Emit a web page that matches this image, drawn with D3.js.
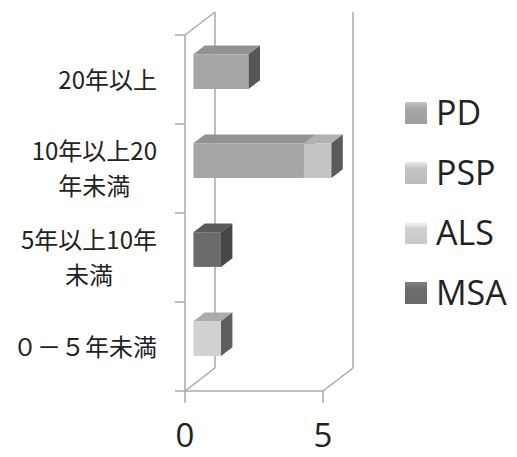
<!DOCTYPE html>
<html>
<head>
<meta charset="utf-8">
<script src="https://cdn.jsdelivr.net/npm/d3@7"></script>
<style>
  html, body { margin: 0; padding: 0; background: #fff; }
  svg { display: block; }
</style>
</head>
<body>
<svg id="chart" width="517" height="457"></svg>
<script>
// Disease counts by years since onset (stacked 3D horizontal bars)
const categories = ["20年以上", "10年以上20年未満", "5年以上10年未満", "０－５年未満"];
const categoryLines = [["20年以上"], ["10年以上20", "年未満"], ["5年以上10年", "未満"], ["０－５年未満"]];
const seriesNames = ["PD", "PSP", "ALS", "MSA"];
const pdValues  = [2, 4, 0, 0];
const pspValues = [0, 1, 0, 0];
const alsValues = [0, 0, 0, 1];
const msaValues = [0, 0, 1, 0];
const xTicks = [0, 5];

const frontColors = ["#a6a6a6", "#c4c4c4", "#d1d1d1", "#6b6b6b"];
const topColors   = ["#929292", "#b2b2b2", "#ababab", "#5a5a5a"];
const sideColors  = ["#565656", "#5a5a5a", "#5e5e5e", "#464646"];
const keyColors   = ["#a6a6a6", "#c3c3c3", "#d0d0d0", "#6d6d6d"];

const rows = categories.map((c, i) => ({
  category: c, PD: pdValues[i], PSP: pspValues[i], ALS: alsValues[i], MSA: msaValues[i]
}));
const stacked = d3.stack().keys(seriesNames)(rows);

const svg = d3.select("#chart");
const textColor = "#222";
const lineColor = "#a8a8a8";

const x = d3.scaleLinear().domain([0, 5]).range([185, 323]);
const y = d3.scaleBand().domain(categories).range([35, 391]).paddingInner(0).paddingOuter(0);
const plotTop = 35, plotBottom = 391;

// oblique depth direction of the 3D box
const DX = 30, DY = -23;
const proj = (v, yy, f) => [x(v) + f * DX, yy + f * DY];
const line = d3.line();

const frame = svg.append("g").attr("fill", "none").attr("stroke", lineColor).attr("stroke-width", 1.5);

// left wall edges
frame.append("path").attr("d", line([proj(0, plotTop, 0), proj(0, plotBottom, 0)]));
frame.append("path").attr("d", line([proj(0, plotTop, 0), proj(0, plotTop, 1)]));
// floor front edge
frame.append("path").attr("d", line([proj(0, plotBottom, 0), proj(5, plotBottom, 0)]));
// value gridlines: floor diagonal + back wall vertical
xTicks.forEach(v => {
  frame.append("path").attr("d", line([proj(v, plotBottom, 0), proj(v, plotBottom, 1)]));
  frame.append("path").attr("d", line([proj(v, plotBottom, 1), proj(v, plotTop, 1)]));
});

// category tick marks
const boundaries = categories.map(c => y(c)).concat([plotBottom]);
boundaries.forEach(b => {
  frame.append("path").attr("d", line([[x(0) - 10, b], [x(0), b]]));
});
// value tick marks
xTicks.forEach(v => {
  frame.append("path").attr("d", line([[x(v), plotBottom], [x(v), plotBottom + 12]]));
});

// bars
const f0 = 0.28, f1 = 0.66;
const barH = y.bandwidth() * 0.39;
const bars = svg.append("g");
categories.forEach((c, ci) => {
  const cy = y(c) + y.bandwidth() / 2 - 1.5;
  const yT = cy - barH / 2, yB = cy + barH / 2;
  stacked.forEach((s, si) => {
    const [v0, v1] = s[ci];
    if (v1 - v0 <= 0) return;
    const g = bars.append("g");
    // top face
    g.append("path")
      .attr("d", line([proj(v0, yT, f0), proj(v1, yT, f0), proj(v1, yT, f1), proj(v0, yT, f1)]) + "Z")
      .attr("fill", topColors[si]);
    // front face
    g.append("path")
      .attr("d", line([proj(v0, yT, f0), proj(v1, yT, f0), proj(v1, yB, f0), proj(v0, yB, f0)]) + "Z")
      .attr("fill", frontColors[si]);
    // right side face
    g.append("path")
      .attr("d", line([proj(v1, yT, f0), proj(v1, yT, f1), proj(v1, yB, f1), proj(v1, yB, f0)]) + "Z")
      .attr("fill", sideColors[si]);
  });
});

// value tick labels
svg.append("g").selectAll("text").data(xTicks).join("text")
  .attr("x", d => x(d)).attr("y", 447)
  .attr("text-anchor", "middle")
  .attr("font-family", "'Open Sans', 'Noto Sans CJK JP', sans-serif")
  .attr("font-size", 33).attr("fill", textColor)
  .text(d => d);

// category labels (multi-line, centred block, right-aligned to the axis)
const labelRight = 157, lineGap = 35;
const catG = svg.append("g")
  .attr("font-family", "'Noto Sans CJK JP', sans-serif")
  .attr("font-size", 24).attr("fill", textColor);
categories.forEach((c, i) => {
  const lines = categoryLines[i];
  const cy = y(c) + y.bandwidth() / 2 + 1;
  const t = catG.append("text").attr("text-anchor", "middle");
  const spans = lines.map((l, k) => t.append("tspan")
    .attr("y", cy + (k - (lines.length - 1) / 2) * lineGap)
    .attr("dy", "0.35em")
    .text(l));
  const maxW = d3.max(spans, sp => sp.node().getComputedTextLength());
  spans.forEach(sp => sp.attr("x", labelRight - maxW / 2));
});

// legend
const defs = svg.append("defs");
keyColors.forEach((col, i) => {
  const gr = defs.append("linearGradient").attr("id", "key" + i)
    .attr("x1", 0).attr("y1", 0).attr("x2", 0).attr("y2", 1);
  gr.append("stop").attr("offset", "0%").attr("stop-color", d3.color(col).brighter(0.5));
  gr.append("stop").attr("offset", "30%").attr("stop-color", col);
  gr.append("stop").attr("offset", "100%").attr("stop-color", d3.color(col).darker(0.1));
});
const legend = svg.append("g");
seriesNames.forEach((name, i) => {
  const gy = 113 + i * 60;
  legend.append("rect")
    .attr("x", 405).attr("y", gy - 11).attr("width", 22).attr("height", 22)
    .attr("fill", `url(#key${i})`);
  legend.append("text")
    .attr("x", 436).attr("y", gy).attr("dy", "0.36em")
    .attr("font-family", "'Open Sans', sans-serif")
    .attr("font-size", 34).attr("fill", textColor)
    .text(name);
});
</script>
</body>
</html>
